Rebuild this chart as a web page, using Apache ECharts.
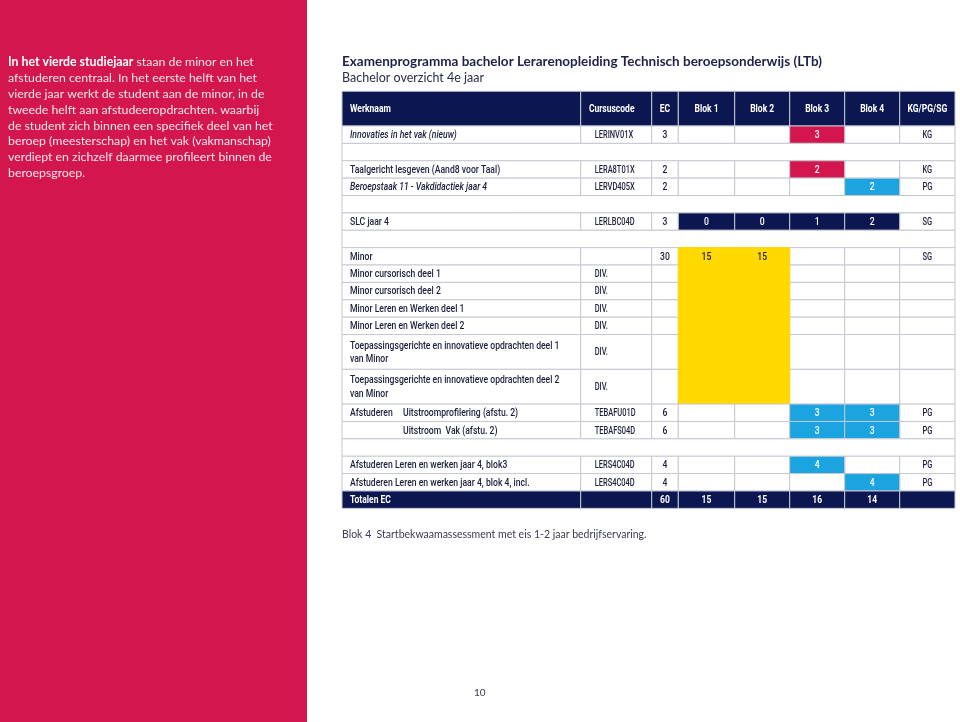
<!DOCTYPE html>
<html><head><meta charset="utf-8">
<script src="https://cdn.jsdelivr.net/npm/echarts@6/dist/echarts.min.js"></script>
<style>html,body{margin:0;padding:0;background:#fff}#c{width:960px;height:722px}</style>
</head><body><div id="c"></div>
<script>
// ---------------- DATA ----------------
const headers = ['Werknaam','Cursuscode','EC','Blok 1','Blok 2','Blok 3','Blok 4','KG/PG/SG'];
const rowKind = ['course','gap','course','course','gap','course','gap','course','sub','sub','sub','sub','sub','sub','course','course','gap','course','course','total'];
const rowUnits = [1,1,1,1,1,1,1,1,1,1,1,1,2,2,1,1,1,1,1,1];
const werknaam = [
  'Innovaties in het vak (nieuw)','',
  'Taalgericht lesgeven (Aand8 voor Taal)',
  'Beroepstaak 11 - Vakdidactiek jaar 4','',
  'SLC jaar 4','',
  'Minor','Minor cursorisch deel 1','Minor cursorisch deel 2',
  'Minor Leren en Werken deel 1','Minor Leren en Werken deel 2',
  'Toepassingsgerichte en innovatieve opdrachten deel 1\nvan Minor',
  'Toepassingsgerichte en innovatieve opdrachten deel 2\nvan Minor',
  'Afstuderen\tUitstroomprofilering (afstu. 2)',
  '\tUitstroom  Vak (afstu. 2)','',
  'Afstuderen Leren en werken jaar 4, blok3',
  'Afstuderen Leren en werken jaar 4, blok 4, incl.',
  'Totalen EC'
];
const cursuscode = ['LERINV01X','','LERA8T01X','LERVD405X','','LERLBC04D','','','DIV.','DIV.','DIV.','DIV.','DIV.','DIV.','TEBAFU01D','TEBAFS04D','','LERS4C04D','LERS4C04D',''];
const ec    = ['3','','2','2','','3','','30','','','','','','','6','6','','4','4','60'];
const blok1 = ['','','','','','0','','15','','','','','','','','','','','','15'];
const blok2 = ['','','','','','0','','15','','','','','','','','','','','','15'];
const blok3 = ['3','','2','','','1','','','','','','','','','3','3','','4','','16'];
const blok4 = ['','','','2','','2','','','','','','','','','3','3','','','4','14'];
const toetsvorm = ['KG','','KG','PG','','SG','','SG','','','','','','','PG','PG','','PG','PG',''];
// which Blok cells are marked (1..4) and the kind of mark
const markedBlok = [[3],[],[3],[4],[],[1,2,3,4],[],[1,2],[1,2],[1,2],[1,2],[1,2],[1,2],[1,2],[3,4],[3,4],[],[3],[4],[]];
const markKind = ['kennis','','kennis','praktijk','','slc','','minor','minor','minor','minor','minor','minor','minor','praktijk','praktijk','','praktijk','praktijk','total'];
const italicRows = [0,3];

const title = 'Examenprogramma bachelor Lerarenopleiding Technisch beroepsonderwijs (LTb)';
const subtitle = 'Bachelor overzicht 4e jaar';
const introBold = 'In het vierde studiejaar';
const introLines = [
  ' staan de minor en het',
  'afstuderen centraal. In het eerste helft van het',
  'vierde jaar werkt de student aan de minor, in de',
  'tweede helft aan afstudeeropdrachten. waarbij',
  'de student zich binnen een specifiek deel van het',
  'beroep (meesterschap) en het vak (vakmanschap)',
  'verdiept en zichzelf daarmee profileert binnen de',
  'beroepsgroep.'
];
const footnote = 'Blok 4  Startbekwaamassessment met eis 1-2 jaar bedrijfservaring.';
const pageNumber = '10';

// ---------------- LAYOUT / STYLE ----------------
const C = { navy:'#0c1752', kennis:'#d3164e', praktijk:'#1ba4e0', slc:'#0c1752', minor:'#ffd900', total:'#0c1752',
            border:'#c6c8d1', text:'#1c1f3c', red:'#d3164e' };
const colEdges = [0, 238.7, 309.7, 336.3, 392.7, 447.7, 502.7, 557.7, 613];
const TABLE_W = 613, UNIT = 17.38;
const FONT_T = 'Roboto, sans-serif';
const T_SIZE = 11.5, SCALE_TEXT = 0.75, SCALE_CODE = 0.65, SCALE_BOLD = 0.74;
const FONT = 'Lato, "Open Sans", sans-serif';
const headerUnits = 2;
const totalUnits = headerUnits + rowUnits.reduce((a,b)=>a+b,0);

// build series data: [rowIndex, yStart, yEnd]
const seriesData = [[-1, 0, headerUnits]];
let acc = headerUnits;
rowUnits.forEach((u,i)=>{ seriesData.push([i, acc, acc+u]); acc += u; });

function renderItem(params, api) {
  const r = api.value(0), y0 = api.value(1), y1 = api.value(2);
  const top = api.coord([0, y0])[1], bot = api.coord([0, y1])[1];
  const X = colEdges.map(e => api.coord([e, 0])[0]);
  const h = bot - top, cy = (top + bot) / 2;
  const white = [], colored = [], texts = [];
  const rect = (x0, x1, fill, stroke) => ({ type:'rect', silent:true,
    shape:{ x:x0, y:top, width:x1-x0, height:h },
    style:{ fill, stroke, lineWidth:1 } });
  const txt = (s, x, align, opt, scale) => {
    const bold = opt && opt.fontWeight === 'bold';
    return { type:'text', silent:true, z2:10, x: x, y: cy + 0.5,
      scaleX: scale || (bold ? SCALE_BOLD : SCALE_TEXT),
      style: Object.assign({ text:s, x:0, y:0, align, verticalAlign:'middle',
        fontSize:T_SIZE, fontFamily:FONT_T, fontWeight:500, fill:C.text }, opt || {}) };
  };

  if (r === -1) {
    for (let c = 0; c < 8; c++) colored.push(rect(X[c], X[c+1], C.navy, C.border));
    const hb = { fill:'#fff', fontWeight:'bold' };
    texts.push(txt(headers[0], X[0]+8, 'left', hb));
    texts.push(txt(headers[1], X[1]+31, 'center', hb));
    for (let c = 2; c < 8; c++) texts.push(txt(headers[c], (X[c]+X[c+1])/2, 'center', hb));
    return { type:'group', children: colored.concat(texts) };
  }
  const kind = rowKind[r];
  if (kind === 'gap') {
    return { type:'group', children:[rect(X[0], X[8], '#fff', C.border)] };
  }
  const isTotal = kind === 'total';
  const marks = markedBlok[r];
  for (let c = 0; c < 8; c++) {
    const isMarked = isTotal || (c >= 3 && c <= 6 && marks.indexOf(c-2) >= 0);
    if (isMarked) {
      const col = C[markKind[r]];
      colored.push(rect(X[c], X[c+1], col, markKind[r] === 'minor' ? col : C.border));
    } else {
      white.push(rect(X[c], X[c+1], '#fff', C.border));
    }
  }
  const base = isTotal ? { fill:'#fff', fontWeight:'bold' } : {};
  const ital = italicRows.indexOf(r) >= 0 ? { fontStyle:'italic' } : {};
  const name = werknaam[r];
  if (name.indexOf('\t') >= 0) {
    const parts = name.split('\t');
    if (parts[0]) texts.push(txt(parts[0], X[0]+8, 'left', base));
    texts.push(txt(parts[1], X[0]+61, 'left', base));
  } else {
    texts.push(txt(name, X[0]+8, 'left', Object.assign({ lineHeight:13.5 }, base, ital)));
  }
  if (cursuscode[r]) texts.push(txt(cursuscode[r], X[1]+14, 'left', base, SCALE_CODE));
  const vals = [ec[r], blok1[r], blok2[r], blok3[r], blok4[r], toetsvorm[r]];
  vals.forEach((v, k) => {
    if (!v) return;
    const c = k + 2;
    const onColor = (c >= 3 && c <= 6) && (marks.indexOf(c-2) >= 0) && markKind[r] !== 'minor';
    texts.push(txt(v, (X[c]+X[c+1])/2, 'center', Object.assign({}, base, onColor ? { fill:'#fff' } : {}),
      c === 7 ? SCALE_CODE : null));
  });
  return { type:'group', children: white.concat(colored, texts) };
}

const chart = echarts.init(document.getElementById('c'), null, { renderer:'canvas' });
const introRich = [ '{b|' + introBold + '}{n|' + introLines[0] + '}' ].concat(introLines.slice(1).map(l => '{n|' + l + '}')).join('\n');
chart.setOption({
  animation: false,
  backgroundColor: '#fff',
  title: {
    text: title, subtext: subtitle, left: 342, top: 54, padding: 0, itemGap: 1,
    textStyle: { fontFamily: FONT, fontSize: 13.5, fontWeight: 'bold', color: '#1e2146', lineHeight: 15 },
    subtextStyle: { fontFamily: FONT, fontSize: 12.5, color: '#2a2d4a', lineHeight: 15 }
  },
  grid: { left: 342, top: 126 - headerUnits*UNIT, width: TABLE_W, height: totalUnits*UNIT },
  xAxis: { type:'value', min:0, max:TABLE_W, show:false },
  yAxis: { type:'value', min:0, max:totalUnits, inverse:true, show:false },
  graphic: [
    { type:'rect', z:-1, shape:{ x:0, y:0, width:307, height:722 }, style:{ fill:C.red } },
    { type:'text', left: 8, top: 54, style:{ text: introRich, fill:'#fbe6ec', font: '12.3px ' + FONT,
        lineHeight: 15.9,
        rich: { b:{ fontFamily:FONT, fontSize:12.3, fontWeight:'bold', fill:'#fff', lineHeight:15.9 },
                n:{ fontFamily:FONT, fontSize:12.3, fill:'#fbe6ec', lineHeight:15.9 } } } },
    { type:'text', left: 342, top: 529, style:{ text: footnote, fill:'#3a3c52', font: '10.5px ' + FONT } },
    { type:'text', left: 474, top: 688, style:{ text: pageNumber, fill:'#3a3c52', font: '10px ' + FONT } }
  ],
  series: [{
    type:'custom', renderItem, data: seriesData, silent:true,
    encode: { x: -1, y: [1, 2] }, clip:false
  }]
});
</script>
</body></html>
